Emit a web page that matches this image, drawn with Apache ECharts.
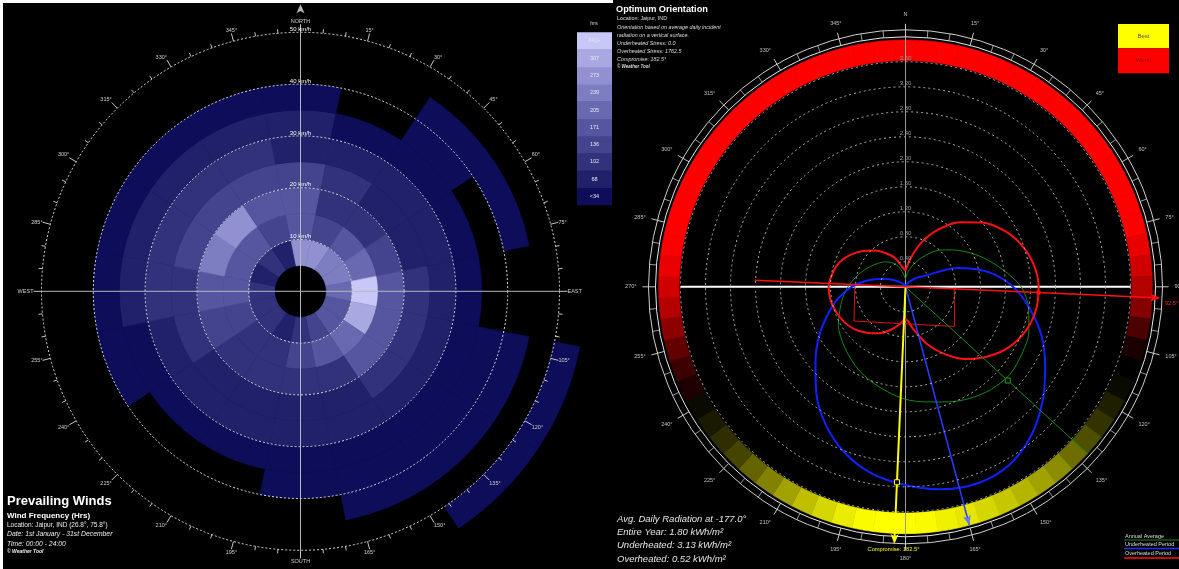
<!DOCTYPE html>
<html>
<head>
<meta charset="utf-8">
<script src="https://cdn.jsdelivr.net/npm/echarts@6/dist/echarts.min.js"></script>
<style>
  html, body { margin: 0; padding: 0; background: #000; }
  #chart { width: 1179px; height: 569px; }
</style>
</head>
<body>
<div id="chart"></div>
<script>
// ---------- Prevailing winds, Jaipur: hours per direction and speed band ----------
const directions = ['N', 'NNE', 'NE', 'ENE', 'E', 'ESE', 'SE', 'SSE', 'S', 'SSW', 'SW', 'WSW', 'W', 'WNW', 'NW', 'NNW'];
const speedEdges = [5, 10, 15, 20, 25, 30, 35, 40, 45, 50, 55];          // km/h band edges
const hrs05to10 = [270, 250, 230, 210, 200, 170, 150, 120,  90,  60,  70,  80,  70,  60,  70,  50];
const hrs10to15 = [170, 130, 150, 180, 345, 300, 190, 140, 110,  90, 100, 125, 150, 150, 160, 120];
const hrs15to20 = [150,  90,  80, 110, 170, 170, 140,  90,  75,  75,  85, 105, 150, 230, 250, 170];
const hrs20to25 = [120,  70,  55,  65,  95,  85,  75,  55,  45,  50,  55,  70, 100, 125, 135, 110];
const hrs25to30 = [ 60,  45,  40,  45,  50,  55,  50,  40,  35,  35,  40,  50,  70,  80,  90,  70];
const hrs30to35 = [ 35,  30,  30,  30,  30,  32,  32,  30,  25,  25,  25,  32,  40,  45,  50,  40];
const hrs35to40 = [ 22,   0,  25,   0,   0,  25,  25,  20,  20,   0,   0,  20,  25,  28,  30,  26];
const hrs40to45 = [  0,   0,  20,  20,   0,  20,  20,  15,   0,   0,   0,   0,   0,   0,   0,   0];
const hrs45to50 = [  0,   0,   0,   0,   0,   0,   0,   0,   0,   0,   0,   0,   0,   0,   0,   0];
const hrs50to55 = [  0,   0,   0,   0,   0,  10,  10,   0,   0,   0,   0,   0,   0,   0,   0,   0];
const windBands = [hrs05to10, hrs10to15, hrs15to20, hrs20to25, hrs25to30,
                   hrs30to35, hrs35to40, hrs40to45, hrs45to50, hrs50to55];

// colour key for hours
const hourBreaks = [34, 68, 102, 136, 171, 205, 239, 273, 307];
const hourLabels = ['<34', '68', '102', '136', '171', '205', '239', '273', '307', '342+'];
const hourColors = ['#0d0d5a', '#20206b', '#31317c', '#43438e', '#5656a0', '#6969b1', '#7d7dc2', '#9191d2', '#a9a9e2', '#c8c8f8'];

// ---------- Optimum orientation: average daily radiation (kWh/m²) by bearing ----------
const curveBearings = [0, 10, 20, 30, 40, 50, 60, 70, 80, 90, 100, 110, 120, 130, 140, 150, 160, 170,
                       180, 190, 200, 210, 220, 230, 240, 250, 260, 270, 280, 290, 300, 310, 320, 330, 340, 350];
const annualAverage = [0.12, 0.25, 0.38, 0.55, 0.75, 0.92, 1.12, 1.34, 1.58, 1.85, 2.00, 2.10, 2.15, 2.18, 2.14, 2.06, 1.96, 1.87,
                       1.80, 1.70, 1.61, 1.52, 1.42, 1.33, 1.24, 1.12, 1.02, 0.92, 0.82, 0.73, 0.65, 0.58, 0.52, 0.45, 0.35, 0.22];
const underheated   = [0.02, 0.02, 0.03, 0.06, 0.12, 0.22, 0.35, 0.88, 1.35, 1.72, 2.02, 2.32, 2.58, 2.86, 3.12, 3.30, 3.35, 3.29,
                       3.17, 3.04, 2.83, 2.55, 2.22, 1.88, 1.60, 1.33, 1.10, 0.86, 0.60, 0.36, 0.22, 0.12, 0.07, 0.04, 0.03, 0.02];
const overheated    = [0.26, 0.46, 0.76, 1.06, 1.35, 1.60, 1.81, 1.97, 2.08, 2.13, 2.12, 2.05, 1.92, 1.73, 1.51, 1.24, 0.96, 0.68,
                       0.52, 0.62, 0.74, 0.86, 0.96, 1.06, 1.13, 1.18, 1.22, 1.23, 1.19, 1.13, 1.02, 0.89, 0.76, 0.62, 0.49, 0.33];
// red/yellow ring: +100 worst ... 0 ... -100 best, every 5 degrees
const ringBearings = Array.from({ length: 72 }, (_, i) => i * 5);
const ringScore = [100, 100, 100, 100, 100, 100, 100, 100, 100, 100, 100, 100, 100, 100, 100, 100, 92, 82,
                   70, 52, 30, 10, 0, -4, -12, -20, -31, -43, -55, -63, -71, -78, -84, -90, -94, -98,
                   -100, -100, -98, -92, -84, -75, -63, -51, -39, -27, -18, -10, -4, 12, 24, 39, 55, 71,
                   82, 92, 98, 100, 100, 100, 100, 100, 100, 100, 100, 100, 100, 100, 100, 100, 100, 100];
const annualBest = 132.5, underheatedBest = 165, compromise = 182.5, worst = 92.5;
const compromiseValue = 3.13, annualAtBest = 2.22, overAtWorst = 2.13;

const FONT = '"Liberation Sans", Arial, sans-serif';

function hourColor(h) {
  let k = 0;
  while (k < hourBreaks.length && h >= hourBreaks[k]) k++;
  return hourColors[k];
}
function scoreColor(s) {
  const t = Math.min(1, Math.abs(s) / 100);
  const c = Math.round(255 * t);
  return s >= 0 ? `rgb(${c},0,0)` : `rgb(${c},${c},0)`;
}

// annular sector between two radii, centred on a bearing, built through the polar scales
function sectorRenderer(width, colorOf) {
  return function (params, api) {
    const cs = params.coordSys;
    const cx = cs.cx, cy = cs.cy;
    const lo = api.value(0), b = api.value(1), hi = api.value(2), v = api.value(3);
    const pA = api.coord([hi, b - width / 2]);
    const pB = api.coord([hi, b + width / 2]);
    const pL = api.coord([lo, b]);
    let a0 = Math.atan2(pA[1] - cy, pA[0] - cx);
    let a1 = Math.atan2(pB[1] - cy, pB[0] - cx);
    if (a1 <= a0) a1 += Math.PI * 2;
    const c = colorOf(v);
    return {
      type: 'sector',
      shape: { cx, cy, r0: Math.hypot(pL[0] - cx, pL[1] - cy), r: Math.hypot(pA[0] - cx, pA[1] - cy),
               startAngle: a0, endAngle: a1, clockwise: true },
      style: { fill: c, stroke: c, lineWidth: 0.6 }
    };
  };
}

const windStep = 360 / directions.length;
const windCells = [];
windBands.forEach((band, j) => band.forEach((h, i) => {
  if (h > 0) windCells.push([speedEdges[j], i * windStep, speedEdges[j + 1], h]);
}));
const ringCells = ringBearings.map((b, i) => [3.62, b, 3.95, ringScore[i]]);

const closed = arr => curveBearings.map((b, i) => [arr[i], b]).concat([[arr[0], 360]]);

const chart = echarts.init(document.getElementById('chart'), null, { renderer: 'canvas' });

function txt(x, y, text, font, fill, align) {
  return { type: 'text', x, y, silent: true,
           style: { text, font: font + ' ' + FONT, fill, align: align || 'left', verticalAlign: 'middle' } };
}

const graphics = [
  { type: 'rect', shape: { x: 0, y: 0, width: 613, height: 3 }, style: { fill: '#fff' }, silent: true },
  { type: 'rect', shape: { x: 0, y: 0, width: 3, height: 569 }, style: { fill: '#fff' }, silent: true },
  // wind rose headings
  txt(7, 501, 'Prevailing Winds', 'bold 13px', '#fff'),
  txt(7, 516, 'Wind Frequency (Hrs)', 'bold 8px', '#fff'),
  txt(7, 525, 'Location: Jaipur, IND (26.8°, 75.8°)', '6.5px', '#eee'),
  txt(7, 534.3, 'Date: 1st January - 31st December', 'italic 6.8px', '#eee'),
  txt(7, 543.7, 'Time: 00:00 - 24:00', 'italic 6.8px', '#eee'),
  txt(7, 552, '© Weather Tool', 'italic bold 5px', '#eee'),
  txt(594, 23, 'hrs', '5.5px', '#ccc', 'center'),
  // orientation headings
  txt(616, 9.2, 'Optimum Orientation', 'bold 9.2px', '#fff'),
  txt(617, 19, 'Location: Jaipur, IND', '5.4px', '#ddd'),
  txt(617, 27.1, 'Orientation based on average daily incident', 'italic 5.4px', '#ddd'),
  txt(617, 35.1, 'radiation on a vertical surface.', 'italic 5.4px', '#ddd'),
  txt(617, 43.1, 'Underheated Stress: 0.0', 'italic 5.4px', '#ddd'),
  txt(617, 51.1, 'Overheated Stress: 1762.5', 'italic 5.4px', '#ddd'),
  txt(617, 59.1, 'Compromise: 182.5°', 'italic 5.4px', '#ddd'),
  txt(617, 66.8, '© Weather Tool', 'italic bold 4.5px', '#ddd'),
  txt(617, 519.3, 'Avg. Daily Radiation at -177.0°', 'italic 9.5px', '#e6e6e6'),
  txt(617, 532.3, 'Entire Year: 1.80 kWh/m²', 'italic 9.5px', '#e6e6e6'),
  txt(617, 545.3, 'Underheated: 3.13 kWh/m²', 'italic 9.5px', '#e6e6e6'),
  txt(617, 559, 'Overheated: 0.52 kWh/m²', 'italic 9.5px', '#e6e6e6'),
  txt(893.5, 549.5, 'Compromise: 182.5°', '5.7px', '#ffff00', 'center'),
  txt(1165, 303, '92.5°', '5.5px', '#ff2020'),
  // best / worst key
  { type: 'rect', shape: { x: 1118, y: 24, width: 51, height: 24.3 }, style: { fill: '#ffff00' }, silent: true },
  { type: 'rect', shape: { x: 1118, y: 48.3, width: 51, height: 25 }, style: { fill: '#ff0000' }, silent: true },
  txt(1143.5, 36.2, 'Best', '6px', '#5a5a00', 'center'),
  txt(1143.5, 60.8, 'Worst', '6px', '#a00000', 'center'),
  // period key
  txt(1125, 536, 'Annual Average', '5.5px', '#ddd'),
  { type: 'line', shape: { x1: 1124, y1: 540, x2: 1179, y2: 540 }, style: { stroke: '#1a8a1a', lineWidth: 1 }, silent: true },
  txt(1125, 544.5, 'Underheated Period', '5.5px', '#ddd'),
  { type: 'line', shape: { x1: 1124, y1: 548.5, x2: 1179, y2: 548.5 }, style: { stroke: '#2030ff', lineWidth: 1.5 }, silent: true },
  txt(1125, 553.5, 'Overheated Period', '5.5px', '#ddd'),
  { type: 'line', shape: { x1: 1124, y1: 558, x2: 1179, y2: 558 }, style: { stroke: '#ff1010', lineWidth: 1.5 }, silent: true }
];
// hours key, drawn from the same breaks and colours as the cells
const keyTop = 32.3, keyH = 17.27;
hourLabels.forEach((lab, k) => {
  const y = keyTop + (hourLabels.length - 1 - k) * keyH;
  graphics.push({ type: 'rect', shape: { x: 577, y, width: 35, height: keyH + 0.3 }, style: { fill: hourColors[k] }, silent: true });
  graphics.push(txt(594.5, y + keyH / 2, lab, '5.5px', '#e8e8f0', 'center'));
});

const windAngleName = { 0: 'NORTH', 90: 'EAST', 180: 'SOUTH', 270: 'WEST' };
const splitColors = Array.from({ length: 11 }, (_, i) => i === 10 ? 'rgba(0,0,0,0)' : '#b0b0b0');

const option = {
  backgroundColor: '#000',
  animation: false,
  polar: [
    { center: [300.5, 291.3], radius: 259 },
    { center: [905.5, 286.8], radius: 250 },
    { center: [905.5, 286.8], radius: 257 }
  ],
  angleAxis: [
    {
      polarIndex: 0, type: 'value', min: 0, max: 360, interval: 15, startAngle: 90, clockwise: true, z: 5,
      axisLine: { show: false },
      axisTick: { show: true, length: 8, lineStyle: { color: '#c8c8c8', width: 1 } },
      minorTick: { show: true, splitNumber: 3, length: 4, lineStyle: { color: '#c8c8c8', width: 1 } },
      splitLine: { show: false },
      axisLabel: { margin: 8, color: '#d0d0d0', fontSize: 5.5, fontFamily: FONT,
                   formatter: v => v >= 360 ? '' : (windAngleName[v] || v + '°') }
    },
    {
      polarIndex: 1, type: 'value', min: 0, max: 360, interval: 15, startAngle: 90, clockwise: true, z: 5,
      axisLine: { show: true, lineStyle: { color: '#e8e8e8', width: 1 } },
      axisTick: { show: true, length: 13, lineStyle: { color: '#c8c8c8', width: 1 } },
      minorTick: { show: true, splitNumber: 3, length: 7, lineStyle: { color: '#9a9a9a', width: 1 } },
      splitLine: { show: false },
      axisLabel: { margin: 19, color: '#c0c0c0', fontSize: 5.5, fontFamily: FONT,
                   formatter: v => v >= 360 ? '' : (v === 0 ? 'N' : v + '°') }
    },
    {
      polarIndex: 2, type: 'value', min: 0, max: 360, startAngle: 90, clockwise: true, z: 5,
      axisLine: { show: true, lineStyle: { color: '#cfcfcf', width: 1 } },
      axisTick: { show: false }, axisLabel: { show: false }, splitLine: { show: false }
    }
  ],
  radiusAxis: [
    {
      polarIndex: 0, type: 'value', min: 0, max: 50, interval: 10, z: 6,
      axisLine: { show: false }, axisTick: { show: false },
      axisLabel: { show: true, margin: 0, align: 'center', verticalAlign: 'bottom', color: '#ffffff',
                   fontSize: 6, fontFamily: FONT, formatter: v => v > 0 ? v + ' km/h' : '' },
      splitLine: { show: true, lineStyle: { color: '#dcdcdc', width: 1, type: [2, 2] } }
    },
    {
      polarIndex: 1, type: 'value', min: 0, max: 4, interval: 0.4, z: 6,
      axisLine: { show: false }, axisTick: { show: false },
      axisLabel: { show: true, margin: 0, align: 'center', verticalAlign: 'bottom', color: '#9a9a9a',
                   fontSize: 6, fontFamily: FONT, formatter: v => (v > 0 && v < 3.99) ? v.toFixed(2) : '' },
      splitLine: { show: true, lineStyle: { color: splitColors, width: 1, type: [2, 3] } }
    },
    {
      polarIndex: 2, type: 'value', min: 0, max: 1, show: false
    }
  ],
  graphic: graphics,
  series: [
    // wind frequency cells
    { type: 'custom', coordinateSystem: 'polar', polarIndex: 0, silent: true, z: 2,
      data: windCells, renderItem: sectorRenderer(windStep, hourColor) },
    // compass cross with north pointer
    { type: 'line', coordinateSystem: 'polar', polarIndex: 0, clip: false, silent: true, z: 7,
      lineStyle: { color: '#b8b8b8', width: 1 }, showSymbol: true,
      data: [{ value: [51.5, 180], symbol: 'none' },
             { value: [55.4, 0], symbol: 'arrow', symbolSize: [6, 9], itemStyle: { color: '#b8b8b8' } }] },
    { type: 'line', coordinateSystem: 'polar', polarIndex: 0, clip: false, silent: true, z: 7, symbol: 'none',
      lineStyle: { color: '#b8b8b8', width: 1 }, data: [[51, 270], [51, 90]] },

    // best/worst ring
    { type: 'custom', coordinateSystem: 'polar', polarIndex: 1, silent: true, z: 2,
      data: ringCells, renderItem: sectorRenderer(5, scoreColor) },
    // axes cross
    { type: 'line', coordinateSystem: 'polar', polarIndex: 1, clip: false, silent: true, z: 3, symbol: 'none',
      lineStyle: { color: '#9a9a9a', width: 1 }, data: [[4.33, 180], [4.33, 0]] },
    { type: 'line', coordinateSystem: 'polar', polarIndex: 1, clip: false, silent: true, z: 3, symbol: 'none',
      lineStyle: { color: '#ffffff', width: 2 }, data: [[3.6, 270], [3.6, 90]] },
    // radiation curves
    { type: 'line', coordinateSystem: 'polar', polarIndex: 1, clip: false, silent: true, z: 4, symbol: 'none', smooth: 0.3,
      lineStyle: { color: '#138a13', width: 1 }, data: closed(annualAverage) },
    { type: 'line', coordinateSystem: 'polar', polarIndex: 1, clip: false, silent: true, z: 4, symbol: 'none', smooth: 0.3,
      lineStyle: { color: '#1020ff', width: 2 }, data: closed(underheated) },
    { type: 'line', coordinateSystem: 'polar', polarIndex: 1, clip: false, silent: true, z: 4, symbol: 'none', smooth: 0.3,
      lineStyle: { color: '#ff1010', width: 2 }, data: closed(overheated) },
    // shading box
    { type: 'line', coordinateSystem: 'polar', polarIndex: 1, clip: false, silent: true, z: 4, symbol: 'none',
      lineStyle: { color: '#e01010', width: 1 }, data: [[0.81, 270.3], [0.99, 236.4], [1.01, 128.9], [0.78, 91.9]] },
    // orientation pointers
    { type: 'line', coordinateSystem: 'polar', polarIndex: 1, clip: false, silent: true, z: 5, showSymbol: true,
      lineStyle: { color: '#138a13', width: 1 },
      data: [{ value: [0, annualBest], symbol: 'none' },
             { value: [annualAtBest, annualBest], symbol: 'rect', symbolSize: 5, itemStyle: { color: '#000', borderColor: '#1aa01a', borderWidth: 1 } },
             { value: [3.95, annualBest], symbol: 'none' }] },
    { type: 'line', coordinateSystem: 'polar', polarIndex: 1, clip: false, silent: true, z: 5, showSymbol: true,
      lineStyle: { color: '#2a3cff', width: 1.5 },
      data: [{ value: [0, underheatedBest], symbol: 'none' },
             { value: [3.95, underheatedBest], symbol: 'arrow', symbolSize: [6, 10], symbolRotate: -underheatedBest, itemStyle: { color: '#6a78ff' } }] },
    { type: 'line', coordinateSystem: 'polar', polarIndex: 1, clip: false, silent: true, z: 6, showSymbol: true,
      lineStyle: { color: '#ffff00', width: 2 },
      data: [{ value: [0, compromise], symbol: 'none' },
             { value: [compromiseValue, compromise], symbol: 'rect', symbolSize: 5, itemStyle: { color: '#000', borderColor: '#ffff00', borderWidth: 1 } },
             { value: [4.12, compromise], symbol: 'arrow', symbolSize: [6, 10], symbolRotate: -compromise, itemStyle: { color: '#ffff00' } }] },
    { type: 'line', coordinateSystem: 'polar', polarIndex: 1, clip: false, silent: true, z: 6, showSymbol: true,
      lineStyle: { color: '#ff1010', width: 1.5 },
      data: [{ value: [2.41, worst + 180], symbol: 'none' },
             { value: [overAtWorst, worst], symbol: 'rect', symbolSize: 4, itemStyle: { color: '#ff1010' } },
             { value: [4.08, worst], symbol: 'arrow', symbolSize: [6, 10], symbolRotate: -worst, itemStyle: { color: '#ff1010' } }] }
  ]
};
chart.setOption(option);
</script>
</body>
</html>
